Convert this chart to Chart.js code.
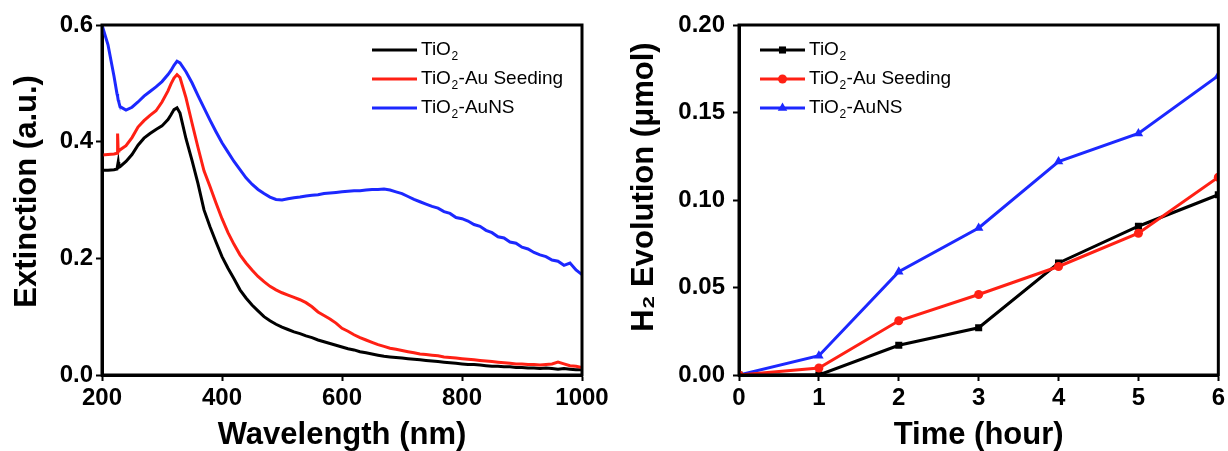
<!DOCTYPE html>
<html>
<head>
<meta charset="utf-8">
<title>Extinction / H2 evolution</title>
<script src="https://cdn.jsdelivr.net/npm/chart.js@4.4.0/dist/chart.umd.min.js"></script>
<style>
body{margin:0;background:#fff;}
#wrap{position:relative;width:1228px;height:451px;}
canvas{position:absolute;top:0;}
#spec{left:0;}
#h2{left:614px;}
</style>
</head>
<body>
<div id="wrap">
  <canvas id="spec" width="614" height="451"></canvas>
  <canvas id="h2" width="614" height="451"></canvas>
</div>
<script>
//データ####################################################

var seriesNames = ['TiO₂', 'TiO₂-Au Seeding', 'TiO₂-AuNS'];
var seriesColors = ['#000000', 'rgb(255,32,20)', 'rgb(28,40,255)'];

var wavelength = [200,210,220,225,226,227,228,230,240,250,260,270,280,290,300,310,315,320,325,330,340,350,360,370,380,390,400,
  410,420,430,440,450,460,470,480,490,500,
  510,520,530,540,550,560,570,580,590,600,
  610,620,630,640,650,660,670,680,690,700,
  710,720,730,740,750,760,770,780,790,800,
  810,820,830,840,850,860,870,880,890,900,
  910,920,930,940,950,960,970,980,990,1000];

var extTiO2 = [.351,.351,.352,.353,.353,.365,.356,.357,.366,.378,.394,.406,.414,.421,.427,.438,.446,.455,.458,.449,.405,.368,.328,.283,.254,.228,.203,
  .183,.165,.146,.132,.120,.110,.100,.093,.087,.082,
  .078,.074,.071,.067,.064,.060,.057,.054,.051,.048,
  .045,.043,.040,.038,.036,.034,.032,.031,.030,.029,
  .028,.027,.026,.025,.024,.023,.022,.021,.020,.019,
  .018,.018,.017,.016,.015,.015,.014,.014,.013,.013,
  .012,.012,.011,.012,.011,.010,.011,.010,.009,.009];

var extSeeding = [.377,.378,.379,.380,.414,.384,.385,.386,.393,.407,.425,.436,.445,.453,.468,.487,.499,.509,.515,.510,.475,.432,.390,.350,.323,.295,.268,
  .244,.224,.206,.192,.180,.169,.160,.152,.146,.141,
  .137,.133,.129,.124,.117,.108,.102,.096,.089,.080,
  .075,.069,.064,.060,.056,.052,.049,.046,.044,.042,
  .040,.038,.036,.035,.034,.033,.031,.030,.029,.028,
  .027,.026,.025,.024,.023,.022,.021,.020,.019,.019,
  .018,.018,.017,.018,.019,.022,.019,.016,.015,.013];

var extAuNS = [.600,.566,.512,.482,.478,.471,.468,.460,.454,.459,.468,.478,.486,.494,.503,.515,.522,.531,.538,.535,.520,.501,.479,.458,.437,.417,.398,
  .382,.366,.352,.338,.327,.318,.311,.305,.301,.300,
  .302,.304,.305,.307,.308,.309,.311,.312,.313,.314,
  .315,.316,.316,.317,.318,.318,.319,.317,.314,.311,
  .306,.301,.297,.293,.289,.286,.280,.277,.270,.268,
  .264,.258,.255,.248,.244,.237,.235,.228,.226,.219,
  .216,.210,.206,.203,.197,.195,.188,.192,.180,.172];

var hours = [0,1,2,3,4,5,6];
var h2TiO2 = [0, 0, 0.017, 0.027, 0.064, 0.085, 0.103];
var h2Seeding = [0, 0.004, 0.031, 0.046, 0.062, 0.081, 0.113];
var h2AuNS = [0, 0.011, 0.059, 0.084, 0.122, 0.138, 0.171];

var wlTicks = [200,400,600,800,1000];
var extTicks = [0,0.2,0.4,0.6];
var hourTicks = [0,1,2,3,4,5,6];
var h2Ticks = [0,0.05,0.10,0.15,0.20];

//共通####################################################

var FONT = '"Liberation Sans", Arial, sans-serif';
Chart.defaults.font.family = FONT;
Chart.defaults.color = '#000';

function pairs(xs, ys) {
  return xs.map(function(x, i){ return {x: x, y: ys[i]}; });
}

// 外枠 (上と右も)
var framePlugin = {
  id: 'frame',
  afterDraw: function(chart) {
    var a = chart.chartArea, ctx = chart.ctx;
    ctx.save();
    ctx.strokeStyle = '#000';
    ctx.lineWidth = 3;
    ctx.strokeRect(a.left, a.top, a.right - a.left, a.bottom - a.top);
    ctx.restore();
  }
};

// TiO2 の 2 を下付きで書く
function subText(ctx, text, x, y, size) {
  var parts = text.split('₂');
  ctx.font = size + 'px ' + FONT;
  ctx.textBaseline = 'middle';
  ctx.textAlign = 'left';
  ctx.fillText(parts[0], x, y);
  x += ctx.measureText(parts[0]).width;
  if (parts.length > 1) {
    ctx.font = Math.round(size * 0.65) + 'px ' + FONT;
    ctx.fillText('2', x + 0.5, y + size * 0.33);
    x += ctx.measureText('2').width + 1;
    ctx.font = size + 'px ' + FONT;
    ctx.fillText(parts[1], x, y);
  }
}

// 凡例
var legendPlugin = {
  id: 'miniLegend',
  afterDraw: function(chart, args, opts) {
    var ctx = chart.ctx;
    ctx.save();
    chart.data.datasets.forEach(function(ds, i){
      var y = opts.y + i * opts.gap;
      ctx.strokeStyle = ds.borderColor;
      ctx.lineWidth = 3;
      ctx.beginPath();
      ctx.moveTo(opts.x, y);
      ctx.lineTo(opts.x + opts.len, y);
      ctx.stroke();
      if (ds.pointRadius > 0) {
        ctx.fillStyle = ds.borderColor;
        Chart.helpers.drawPoint(ctx, {pointStyle: ds.pointStyle, radius: ds.pointRadius, borderWidth: 0, rotation: 0},
          opts.x + opts.len / 2, y);
      }
      ctx.fillStyle = '#000';
      subText(ctx, ds.label, opts.x + opts.len + 4, y, 19);
    });
    ctx.restore();
  }
};

function axisX(min, max, list, title, fmt) {
  return {
    type: 'linear', min: min, max: max,
    afterBuildTicks: function(s){ s.ticks = list.map(function(v){ return {value: v}; }); },
    afterFit: function(s){ s.height = 76; },
    border: {color: '#000', width: 3},
    grid: {drawOnChartArea: false, tickLength: 6, tickColor: '#000', tickWidth: 2},
    ticks: {font: {size: 24, weight: 'bold'}, color: '#000', padding: 3, maxRotation: 0, autoSkip: false,
      callback: fmt},
    title: {display: true, text: title, color: '#000', font: {size: 31, weight: 'bold', lineHeight: 1},
      padding: {top: 0, bottom: 0}}
  };
}

function axisY(min, max, list, title, fmt, w, tpad, titlePad) {
  return {
    min: min, max: max,
    afterBuildTicks: function(s){ s.ticks = list.map(function(v){ return {value: v}; }); },
    afterFit: function(s){ s.width = w; },
    border: {color: '#000', width: 3},
    grid: {drawOnChartArea: false, tickLength: 6, tickColor: '#000', tickWidth: 2},
    ticks: {font: {size: 24, weight: 'bold'}, color: '#000', padding: tpad, autoSkip: false, callback: fmt},
    title: {display: true, text: title, color: '#000', font: {size: 31, weight: 'bold', lineHeight: 1},
      padding: {top: titlePad, bottom: 0}}
  };
}

//吸光スペクトル####################################################

function spectrum() {
  var ys = [extTiO2, extSeeding, extAuNS];
  var order = [1, 0, 2];
  var datasets = ys.map(function(y, i){
    return {
      label: seriesNames[i], data: pairs(wavelength, y),
      borderColor: seriesColors[i], backgroundColor: seriesColors[i],
      borderWidth: 3, pointRadius: 0, fill: false, order: order[i]
    };
  });
  new Chart(document.getElementById('spec').getContext('2d'), {
    type: 'line',
    data: {datasets: datasets},
    options: {
      responsive: false, animation: false, devicePixelRatio: 1,
      layout: {padding: {top: 25, right: 32, left: 0, bottom: 0}},
      scales: {
        x: axisX(200, 1000, wlTicks, 'Wavelength (nm)', function(v){ return v; }),
        // 先頭の空白で縦タイトルを少し上へ
        y: axisY(0, 0.6, extTicks, '  Extinction (a.u.)', function(v){ return v.toFixed(1); }, 102, 3, 12)
      },
      plugins: {legend: {display: false}, tooltip: {enabled: false},
        miniLegend: {x: 372, y: 50, len: 45, gap: 29}}
    },
    plugins: [framePlugin, legendPlugin]
  });
}

//水素発生####################################################

function h2Graph() {
  var ys = [h2TiO2, h2Seeding, h2AuNS];
  var styles = ['rect', 'circle', 'triangle'];
  var radius = [5, 4.5, 5.5];
  var order = [1, 0, 2];
  var datasets = ys.map(function(y, i){
    return {
      label: seriesNames[i], data: pairs(hours, y),
      borderColor: seriesColors[i], backgroundColor: seriesColors[i],
      pointBackgroundColor: seriesColors[i], pointBorderWidth: 0,
      pointStyle: styles[i], pointRadius: radius[i],
      borderWidth: 3, fill: false, order: order[i]
    };
  });
  new Chart(document.getElementById('h2').getContext('2d'), {
    type: 'line',
    data: {datasets: datasets},
    options: {
      responsive: false, animation: false, devicePixelRatio: 1,
      layout: {padding: {top: 25, right: 9, left: 0, bottom: 0}},
      scales: {
        x: axisX(0, 6, hourTicks, 'Time (hour)', function(v){ return v; }),
        y: axisY(0, 0.2, h2Ticks, '   H₂ Evolution (μmol)', function(v){ return v.toFixed(2); }, 125, 8, 15)
      },
      plugins: {legend: {display: false}, tooltip: {enabled: false},
        miniLegend: {x: 146, y: 50, len: 45, gap: 29}}
    },
    plugins: [framePlugin, legendPlugin]
  });
}

spectrum();
h2Graph();
</script>
</body>
</html>
